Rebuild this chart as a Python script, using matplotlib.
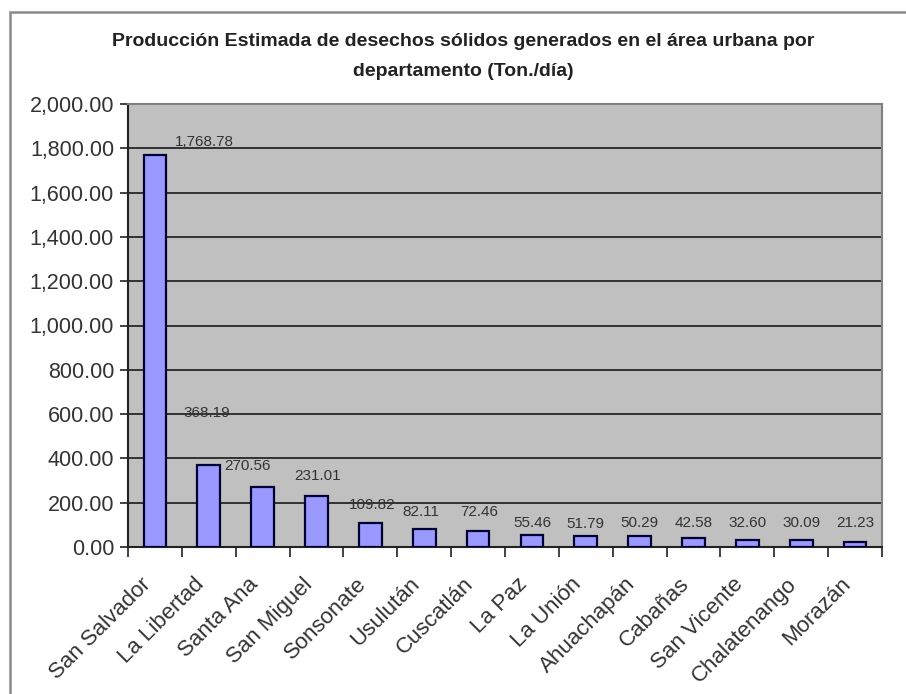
import matplotlib.pyplot as plt
from matplotlib.patches import Rectangle
from matplotlib.ticker import FuncFormatter, MultipleLocator
import numpy as np

plt.rcParams['font.family'] = ['Liberation Sans', 'DejaVu Sans']

departamentos = ["San Salvador", "La Libertad", "Santa Ana", "San Miguel", "Sonsonate",
                 "Usulután", "Cuscatlán", "La Paz", "La Unión", "Ahuachapán",
                 "Cabañas", "San Vicente", "Chalatenango", "Morazán"]
toneladas = [1768.78, 368.19, 270.56, 231.01, 109.82, 82.11, 72.46,
             55.46, 51.79, 50.29, 42.58, 32.60, 30.09, 21.23]

# label offsets in pixels (dx, dy) from the bar top, to mimic the original placement
lbl_dx = [49, -2, -15, 1, 2, -3, 1, 0, 0, 0, 0, 0, 0, 0]
lbl_dy = [13, 52, 21, 20, 18, 17, 19, 12, 12, 13, 15, 17, 17, 19]

fig = plt.figure(figsize=(9.06, 6.94), dpi=100)
ax = fig.add_axes([128/906, 1-547/694, 754/906, 443/694])

# outer chart frame
fig.patches.append(Rectangle((10/906, -0.05), 1.0, 1-12/694+0.05, transform=fig.transFigure,
                             fill=False, edgecolor="#8a8a8a", linewidth=1.8))

x = np.arange(len(departamentos))
ax.set_facecolor("#c0c0c0")
ax.bar(x, toneladas, width=0.42, color="#9999ff", edgecolor="#000033", linewidth=1.6, zorder=3)

ax.set_ylim(0, 2000)
ax.set_xlim(-0.5, len(departamentos) - 0.5)
ax.yaxis.set_major_locator(MultipleLocator(200))
ax.yaxis.set_major_formatter(FuncFormatter(lambda v, p: "{:,.2f}".format(v)))
ax.grid(axis="y", color="#1a1a1a", linewidth=1.2, zorder=1)

ax.set_xticks(x)
ax.set_xticklabels(departamentos, rotation=45, ha="right", va="bottom",
                   rotation_mode="anchor", fontsize=16, color="#333333")
ax.set_xticks(np.arange(-0.5, len(departamentos)), minor=True)
ax.tick_params(axis="x", which="major", length=0, pad=30)
ax.tick_params(axis="x", which="minor", length=7, width=1.2, color="#222222")
ax.tick_params(axis="y", length=6, width=1.2, color="#222222", labelsize=15.5,
               labelcolor="#333333", pad=4)

for s in ["top", "right"]:
    ax.spines[s].set_color("#808080")
    ax.spines[s].set_linewidth(1.5)
for s in ["left", "bottom"]:
    ax.spines[s].set_color("#222222")
    ax.spines[s].set_linewidth(1.5)

for i, v in enumerate(toneladas):
    ax.annotate("{:,.2f}".format(v), xy=(i, v), xytext=(lbl_dx[i], lbl_dy[i]),
                textcoords="offset pixels", ha="center", va="center",
                fontsize=11, color="#333333", zorder=4)

fig.text(0.511, 1-42/694, "Producción Estimada de desechos sólidos generados en el área urbana por",
         ha="center", va="center", fontsize=14, fontweight="bold", color="#222222")
fig.text(0.511, 1-71/694, "departamento (Ton./día)",
         ha="center", va="center", fontsize=14, fontweight="bold", color="#222222")

plt.savefig("out.png", dpi=100)
